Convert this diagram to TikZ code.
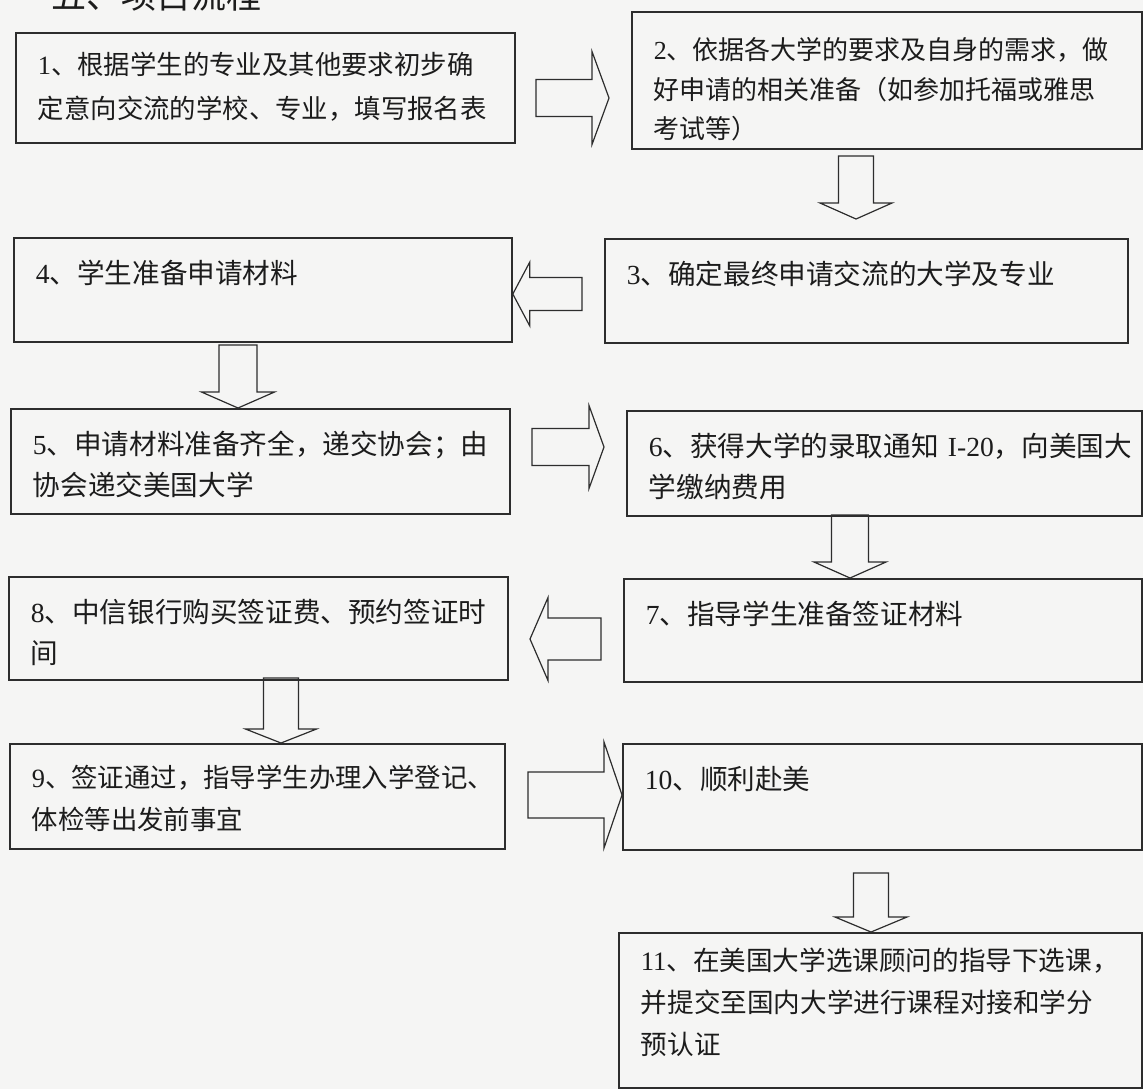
\documentclass[tikz,border=0pt]{standalone}
\usepackage{fontspec}
\setmainfont{Liberation Serif}
\newfontfamily\cjk{Noto Sans CJK SC}
\newcommand{\nr}[1]{{\rmfamily #1}}
\usetikzlibrary{calc}
\definecolor{paper}{RGB}{245,245,244}
\definecolor{ink}{RGB}{28,28,28}
\definecolor{rule}{RGB}{45,45,45}

\begin{document}
\begin{tikzpicture}[x=0.5pt,y=-0.5pt,
  stage/.style={draw=rule,line width=0.9pt,anchor=north west,align=left,inner xsep=11pt,inner ysep=0pt,text=ink,
    font=\cjk\fontsize{13.8pt}{20.5pt}\selectfont},
  dims/.style n args={3}{text width=#1,text height=#2,text depth=#3},
  fat/.style n args={3}{draw=rule,line width=0.6pt,to path={
    ($(\tikztostart)!#1!90:(\tikztotarget)$)
    -- ($(\tikztotarget)!#3!(\tikztostart)!#1!90:(\tikztotarget)$)
    -- ($(\tikztotarget)!#3!(\tikztostart)!#2!90:(\tikztotarget)$)
    -- (\tikztotarget)
    -- ($(\tikztotarget)!#3!(\tikztostart)!#2!-90:(\tikztotarget)$)
    -- ($(\tikztotarget)!#3!(\tikztostart)!#1!-90:(\tikztotarget)$)
    -- ($(\tikztostart)!#1!-90:(\tikztotarget)$) -- cycle}}]

\path[use as bounding box,fill=paper] (0,0) rectangle (1143,1089);

\node[anchor=base west,inner sep=0pt,text=ink,font=\cjk\fontsize{17.5pt}{20pt}\selectfont] (hd) at (51,8) {五、项目流程};

\node[stage,dims={227.5pt}{21pt}{34pt},font=\cjk\fontsize{13.2pt}{22pt}\selectfont] (b1) at (15,32)
  {\mbox{\nr{1}、根据学生的专业及其他要求初步确}\\\mbox{定意向交流的学校、专业，填写报名表}};
\node[stage,dims={233pt}{24pt}{44.5pt},font=\cjk\fontsize{13pt}{19.75pt}\selectfont] (b2) at (631,11)
  {\mbox{\nr{2}、依据各大学的要求及自身的需求，做}\\\mbox{好申请的相关准备（如参加托福或雅思}\\考试等）};
\node[stage,dims={239.5pt}{22.75pt}{29.25pt}] (b3) at (604,238) {\nr{3}、确定最终申请交流的大学及专业};
\node[stage,dims={227pt}{22.75pt}{29.25pt}] (b4) at (13,237) {\nr{4}、学生准备申请材料};
\node[stage,dims={227.5pt}{22.75pt}{29.75pt}] (b5) at (10,408)
  {\mbox{\nr{5}、申请材料准备齐全，递交协会；由}\\协会递交美国大学};
\node[stage,dims={235.5pt}{22.75pt}{29.75pt}] (b6) at (626,410)
  {\mbox{\nr{6}、获得大学的录取通知 \nr{I-20}，向美国大}\\学缴纳费用};
\node[stage,dims={237pt}{22.75pt}{28.75pt}] (b7) at (623,578) {\nr{7}、指导学生准备签证材料};
\node[stage,dims={227.5pt}{22.75pt}{28.75pt}] (b8) at (8,576)
  {\mbox{\nr{8}、中信银行购买签证费、预约签证时}\\间};
\node[stage,dims={225.5pt}{21.75pt}{30.75pt},font=\cjk\fontsize{13.2pt}{21pt}\selectfont] (b9) at (9,743)
  {\mbox{\nr{9}、签证通过，指导学生办理入学登记、}\\体检等出发前事宜};
\node[stage,dims={237.5pt}{22.75pt}{30.25pt}] (b10) at (622,743) {\nr{10}、顺利赴美};
\node[stage,dims={239.5pt}{19pt}{58.5pt},font=\cjk\fontsize{13.3pt}{21pt}\selectfont] (b11) at (618,932)
  {\mbox{\nr{11}、在美国大学选课顾问的指导下选课，}\\\mbox{并提交至国内大学进行课程对接和学分}\\预认证};

\coordinate (a12s) at (536,98);
\coordinate (a12t) at (609,98);
\coordinate (a23s) at (856,156);
\coordinate (a23t) at (856,219);
\coordinate (a34s) at (582,294);
\coordinate (a34t) at (a34s -| b4.east);
\coordinate (a45s) at (238,345);
\coordinate (a45t) at (a45s |- b5.north);
\coordinate (a56s) at (532,447);
\coordinate (a56t) at (604,447);
\coordinate (a67s) at (850,515);
\coordinate (a67t) at (a67s |- b7.north);
\coordinate (a78s) at (601,639);
\coordinate (a78t) at (530,639);
\coordinate (a89s) at (281,678);
\coordinate (a89t) at (a89s |- b9.north);
\coordinate (a910s) at (528,795);
\coordinate (a910t) at (a910s -| b10.west);
\coordinate (a1011s) at (871,873);
\coordinate (a1011t) at (a1011s |- b11.north);

\draw[fat={9.25pt}{23.25pt}{8.5pt}] (a12s) to (a12t);
\draw[fat={8.75pt}{18pt}{8pt}] (a23s) to (a23t);
\draw[fat={8.25pt}{16pt}{8.5pt}] (a34s) to (a34t);
\draw[fat={9.5pt}{18.25pt}{8pt}] (a45s) to (a45t);
\draw[fat={9.25pt}{20.75pt}{7.5pt}] (a56s) to (a56t);
\draw[fat={9.25pt}{18pt}{8pt}] (a67s) to (a67t);
\draw[fat={10.5pt}{20.75pt}{9pt}] (a78s) to (a78t);
\draw[fat={8.75pt}{17.75pt}{7pt}] (a89s) to (a89t);
\draw[fat={11.5pt}{26.5pt}{9pt}] (a910s) to (a910t);
\draw[fat={8.75pt}{18pt}{7.5pt}] (a1011s) to (a1011t);

\end{tikzpicture}
\end{document}
